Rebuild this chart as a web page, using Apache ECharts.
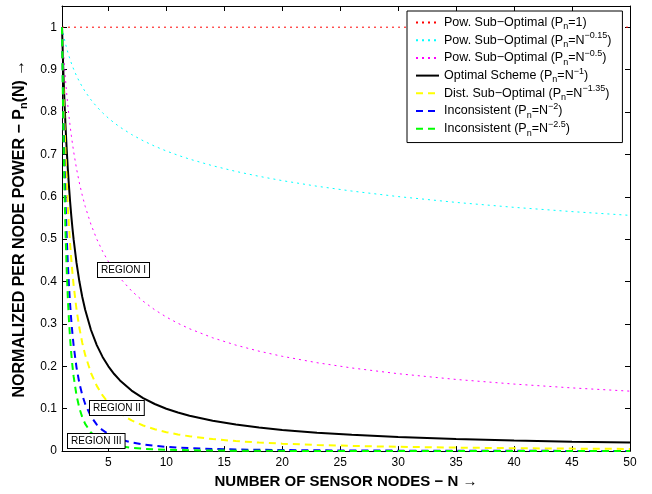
<!DOCTYPE html>
<html>
<head>
<meta charset="utf-8">
<script src="https://cdn.jsdelivr.net/npm/echarts@6/dist/echarts.min.js"></script>
<style>
html,body{margin:0;padding:0;background:#fff;}
#chart{width:652px;height:494px;}
</style>
</head>
<body>
<div id="chart"></div>
<script>
// Number of sensor nodes (x positions of the sampled points)
var nValues = [1, 1.1, 1.2, 1.3, 1.4, 1.5, 1.6, 1.7, 1.8, 1.9, 2, 2.25, 2.5, 2.75, 3, 3.5, 4, 4.5, 5, 5.5, 6, 7, 8, 9, 10, 11, 12, 14, 16, 18, 20, 23, 26, 30, 35, 40, 45, 50];

// Normalized per node power readings for each scheme
var powSubOpt1   = [1, 1, 1, 1, 1, 1, 1, 1, 1, 1, 1, 1, 1, 1, 1, 1, 1, 1, 1, 1, 1, 1, 1, 1, 1, 1, 1, 1, 1, 1, 1, 1, 1, 1, 1, 1, 1, 1];
var powSubOpt015 = [1, 0.98581, 0.97302, 0.96141, 0.95078, 0.94099, 0.93193, 0.92349, 0.91561, 0.90821, 0.90125, 0.88547, 0.87159, 0.85921, 0.84807, 0.82869, 0.81234, 0.79803, 0.78551, 0.77436, 0.76433, 0.74685, 0.73215, 0.71922, 0.70795, 0.69790, 0.68884, 0.67310, 0.65976, 0.64820, 0.63804, 0.62480, 0.61342, 0.60039, 0.58666, 0.57503, 0.56496, 0.55611];
var powSubOpt05  = [1, 0.95346, 0.91287, 0.87706, 0.84515, 0.81650, 0.79057, 0.76696, 0.74536, 0.72548, 0.70711, 0.66667, 0.63246, 0.60302, 0.57735, 0.53452, 0.5, 0.47140, 0.44721, 0.42640, 0.40825, 0.37796, 0.35355, 0.33333, 0.31623, 0.30151, 0.28868, 0.26726, 0.25, 0.23570, 0.22361, 0.20851, 0.19612, 0.18257, 0.16903, 0.15811, 0.14907, 0.14142];
var optimal      = [1, 0.90909, 0.83333, 0.76923, 0.71429, 0.66667, 0.625, 0.58824, 0.55556, 0.52632, 0.5, 0.44444, 0.4, 0.36364, 0.33333, 0.28571, 0.25, 0.22222, 0.2, 0.18182, 0.16667, 0.14286, 0.125, 0.11111, 0.1, 0.09091, 0.08333, 0.07143, 0.0625, 0.05556, 0.05, 0.04348, 0.03846, 0.03333, 0.02857, 0.025, 0.02222, 0.02];
var distSubOpt   = [1, 0.87926, 0.78182, 0.70174, 0.63494, 0.57847, 0.53020, 0.48854, 0.45226, 0.42042, 0.39230, 0.33462, 0.29026, 0.25521, 0.22693, 0.18429, 0.15390, 0.13128, 0.11387, 0.10012, 0.08902, 0.07230, 0.06037, 0.05149, 0.04467, 0.03927, 0.03492, 0.02836, 0.02368, 0.02020, 0.01752, 0.01451, 0.01230, 0.01014, 0.00823, 0.00687, 0.00586, 0.00509];
var inconsist2   = [1, 0.82645, 0.69444, 0.59172, 0.51020, 0.44444, 0.39063, 0.34602, 0.30864, 0.27701, 0.25, 0.19753, 0.16, 0.13223, 0.11111, 0.08163, 0.0625, 0.04938, 0.04, 0.03306, 0.02778, 0.02041, 0.01563, 0.01235, 0.01, 0.00826, 0.00694, 0.00510, 0.00391, 0.00309, 0.0025, 0.00189, 0.00148, 0.00111, 0.00082, 0.00063, 0.00049, 0.0004];
var inconsist25  = [1, 0.78799, 0.63394, 0.51898, 0.43120, 0.36289, 0.30882, 0.26538, 0.23005, 0.20097, 0.17678, 0.13169, 0.10119, 0.07974, 0.06415, 0.04363, 0.03125, 0.02328, 0.01789, 0.01410, 0.01134, 0.00771, 0.00553, 0.00412, 0.00316, 0.00249, 0.00200, 0.00136, 0.00098, 0.00073, 0.00056, 0.00039, 0.00029, 0.00020, 0.00014, 0.0001, 0.00007, 0.00006];

// Tick labels
var xTicks = [5, 10, 15, 20, 25, 30, 35, 40, 45, 50];
var yTicks = [0, 0.1, 0.2, 0.3, 0.4, 0.5, 0.6, 0.7, 0.8, 0.9, 1];

// Legend names and rich-text labels
var seriesNames = ['pow1', 'pow015', 'pow05', 'opt', 'dist', 'inc2', 'inc25'];
var legendRich = {
  pow1:   '{a|Pow. Sub\u2212Optimal (P}{sub|n}{a|=1)}',
  pow015: '{a|Pow. Sub\u2212Optimal (P}{sub|n}{a|=N}{sup|\u22120.15}{a|)}',
  pow05:  '{a|Pow. Sub\u2212Optimal (P}{sub|n}{a|=N}{sup|\u22120.5}{a|)}',
  opt:    '{a|Optimal Scheme (P}{sub|n}{a|=N}{sup|\u22121}{a|)}',
  dist:   '{a|Dist. Sub\u2212Optimal (P}{sub|n}{a|=N}{sup|\u22121.35}{a|)}',
  inc2:   '{a|Inconsistent (P}{sub|n}{a|=N}{sup|\u22122}{a|)}',
  inc25:  '{a|Inconsistent (P}{sub|n}{a|=N}{sup|\u22122.5}{a|)}'
};

var FONT = 'Liberation Sans, Arial, Helvetica, sans-serif';

function pairs(arr) {
  return nValues.map(function (n, i) { return [n, arr[i]]; });
}

function mkSeries(name, arr, color, type, width) {
  return {
    name: name,
    type: 'line',
    xAxisIndex: 0,
    yAxisIndex: 0,
    data: pairs(arr),
    showSymbol: false,
    symbol: 'none',
    smooth: false,
    lineStyle: { color: color, type: type, width: width },
    itemStyle: { color: color },
    emphasis: { disabled: true },
    animation: false
  };
}

var chart = echarts.init(document.getElementById('chart'), null, { renderer: 'canvas' });

var option = {
  backgroundColor: '#ffffff',
  animation: false,
  grid: { left: 62, right: 22, top: 6, bottom: 42 },
  xAxis: [
    {
      type: 'value', min: 1, max: 50, position: 'bottom',
      name: 'NUMBER OF SENSOR NODES \u2212 N \u2192',
      nameLocation: 'middle', nameGap: 13,
      nameTextStyle: { fontFamily: FONT, fontWeight: 'bold', fontSize: 15, color: '#000' },
      axisLine: { show: true, onZero: false, lineStyle: { color: '#000', width: 1 } },
      axisTick: { show: true, inside: true, length: 5, customValues: xTicks, lineStyle: { color: '#000' } },
      axisLabel: { show: true, customValues: xTicks, margin: 6, fontFamily: FONT, fontSize: 12, color: '#000' },
      splitLine: { show: false }
    },
    {
      type: 'value', min: 1, max: 50, position: 'top',
      axisLine: { show: true, onZero: false, lineStyle: { color: '#000', width: 1 } },
      axisTick: { show: true, inside: true, length: 5, customValues: xTicks, lineStyle: { color: '#000' } },
      axisLabel: { show: false },
      splitLine: { show: false }
    }
  ],
  yAxis: [
    {
      type: 'value', min: 0, max: 1.05, position: 'left',
      name: '{t|NORMALIZED PER NODE POWER \u2212 P}{s|n}{t|(N) \u2192}',
      nameLocation: 'middle', nameGap: 32, nameRotate: 90,
      nameTextStyle: {
        fontFamily: FONT, fontWeight: 'bold', fontSize: 16, color: '#000',
        rich: {
          t: { fontFamily: FONT, fontWeight: 'bold', fontSize: 16, color: '#000', lineHeight: 20 },
          s: { fontFamily: FONT, fontWeight: 'bold', fontSize: 11, color: '#000', lineHeight: 4, verticalAlign: 'bottom' }
        }
      },
      axisLine: { show: true, onZero: false, lineStyle: { color: '#000', width: 1 } },
      axisTick: { show: true, inside: true, length: 5, customValues: yTicks, lineStyle: { color: '#000' } },
      axisLabel: {
        show: true, customValues: yTicks, margin: 5, fontFamily: FONT, fontSize: 12, color: '#000',
        formatter: function (v) { return String(Math.round(v * 10) / 10); }
      },
      splitLine: { show: false }
    },
    {
      type: 'value', min: 0, max: 1.05, position: 'right',
      axisLine: { show: true, onZero: false, lineStyle: { color: '#000', width: 1 } },
      axisTick: { show: true, inside: true, length: 5, customValues: yTicks, lineStyle: { color: '#000' } },
      axisLabel: { show: false },
      splitLine: { show: false }
    }
  ],
  legend: {
    orient: 'vertical',
    left: 407, top: 11,
    padding: [5, 11, 5, 8],
    itemGap: 0,
    itemWidth: 23,
    itemHeight: 14,
    backgroundColor: '#ffffff',
    borderColor: '#000',
    borderWidth: 1,
    borderRadius: 0,
    itemStyle: { opacity: 0, borderWidth: 0 },
    data: seriesNames,
    formatter: function (name) { return legendRich[name]; },
    textStyle: {
      fontFamily: FONT, fontSize: 12.5, color: '#000',
      rich: {
        a: { fontFamily: FONT, fontSize: 12.5, color: '#000', lineHeight: 17.7 },
        sub: { fontFamily: FONT, fontSize: 9, color: '#000', lineHeight: 3, verticalAlign: 'bottom' },
        sup: { fontFamily: FONT, fontSize: 9, color: '#000', lineHeight: 6, verticalAlign: 'top' }
      }
    },
    selectedMode: false
  },
  graphic: [
    {
      type: 'text', left: 97, top: 262, z: 100,
      style: {
        text: 'REGION I', font: '10px ' + FONT, fill: '#000',
        backgroundColor: '#fff', borderColor: '#000', borderWidth: 1, padding: [2, 3, 2, 3]
      }
    },
    {
      type: 'text', left: 89, top: 400, z: 100,
      style: {
        text: 'REGION II', font: '10px ' + FONT, fill: '#000',
        backgroundColor: '#fff', borderColor: '#000', borderWidth: 1, padding: [2, 3, 2, 3]
      }
    },
    {
      type: 'text', left: 67, top: 433, z: 100,
      style: {
        text: 'REGION III', font: '10px ' + FONT, fill: '#000',
        backgroundColor: '#fff', borderColor: '#000', borderWidth: 1, padding: [2, 3, 2, 3]
      }
    }
  ],
  series: [
    mkSeries('pow1',   powSubOpt1,   '#ff0000', [2, 4], 1),
    mkSeries('pow015', powSubOpt015, '#00ffff', [2, 4], 1),
    mkSeries('pow05',  powSubOpt05,  '#ff00ff', [2, 4], 1),
    mkSeries('opt',    optimal,      '#000000', 'solid', 2),
    mkSeries('dist',   distSubOpt,   '#ffff00', [7, 5], 2),
    mkSeries('inc2',   inconsist2,   '#0000ff', [7, 5], 2),
    mkSeries('inc25',  inconsist25,  '#00ff00', [7, 5], 2)
  ]
};

chart.setOption(option);
</script>
</body>
</html>
